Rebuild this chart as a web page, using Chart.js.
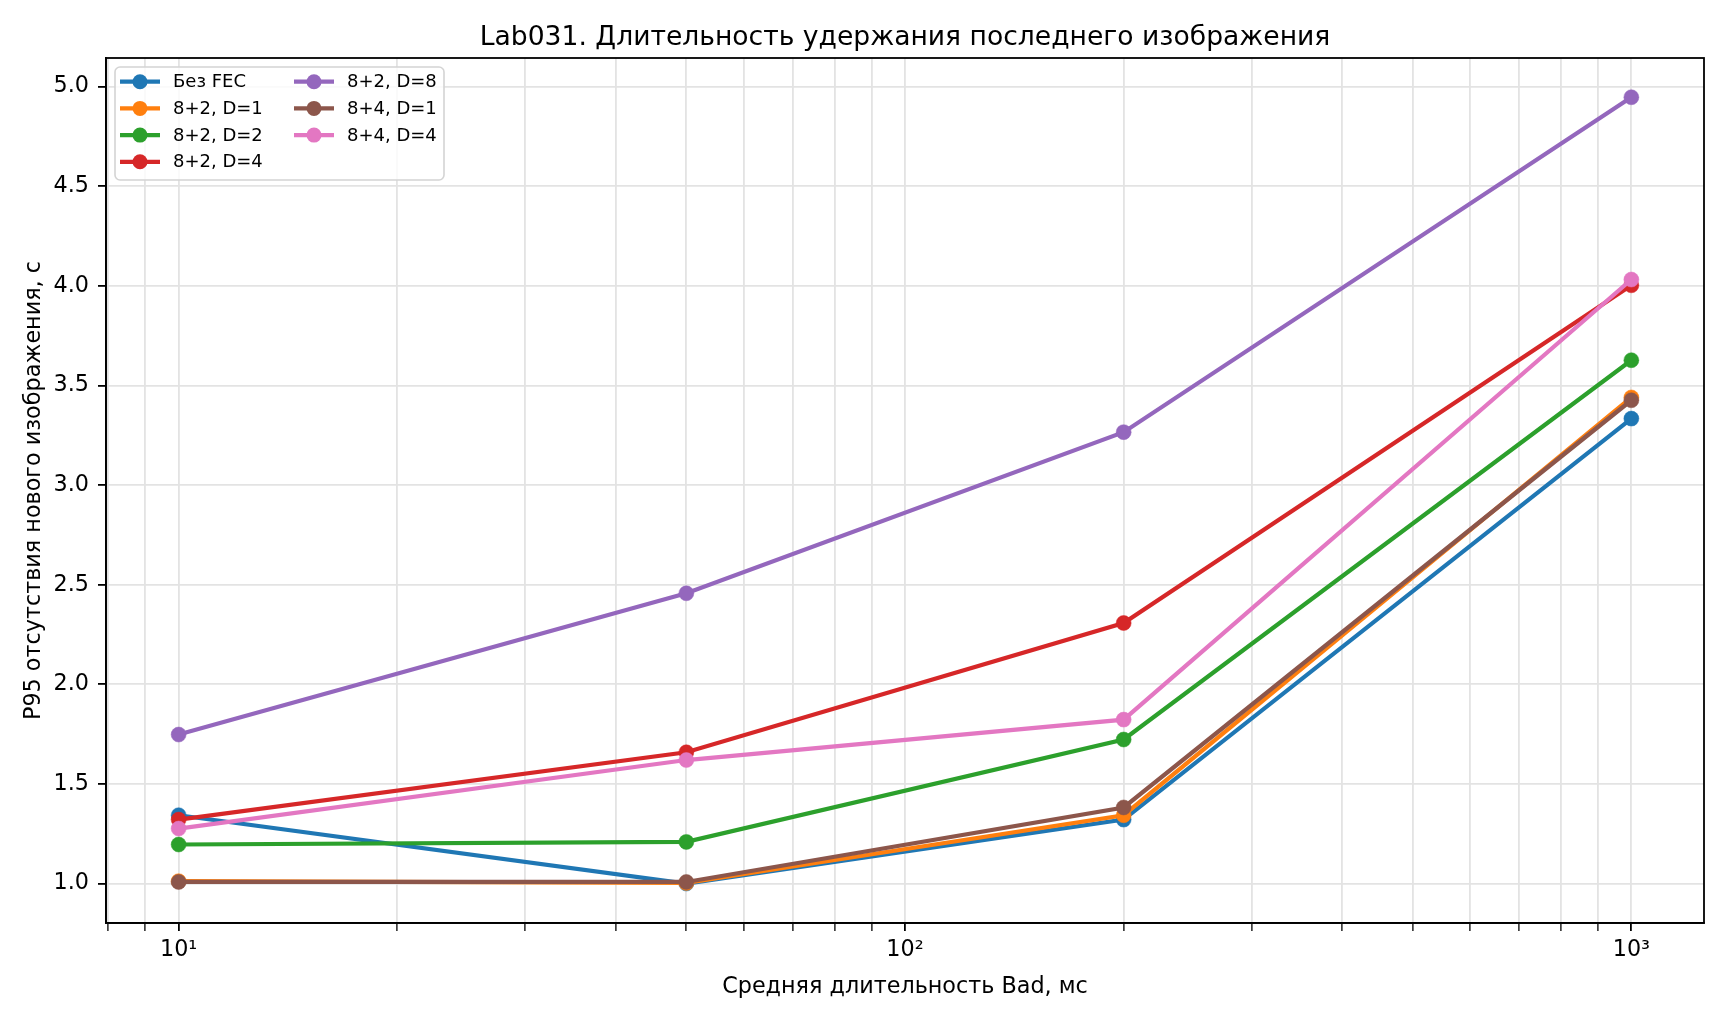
<!DOCTYPE html>
<html lang="ru">
<head>
  <meta charset="UTF-8">
  <title>Lab031</title>
  <script src="https://cdn.jsdelivr.net/npm/chart.js"></script>
  <style>
    html, body { margin: 0; padding: 0; background: #fff; }
    canvas { display: block; }
  </style>
</head>
<body>
  <canvas id="chart" width="1728" height="1024"></canvas>
  <script>
    // mean Bad duration, ms
    const badMs = [10, 50, 200, 1000];

    // P95 gap without a new picture, s
    const noFec  = [1.343, 1.000, 1.321, 3.334];
    const fec82d1 = [1.012, 1.003, 1.343, 3.440];
    const fec82d2 = [1.196, 1.209, 1.723, 3.627];
    const fec82d4 = [1.321, 1.659, 2.308, 4.003];
    const fec82d8 = [1.748, 2.457, 3.266, 4.947];
    const fec84d1 = [1.008, 1.008, 1.382, 3.426];
    const fec84d4 = [1.276, 1.620, 1.823, 4.032];

    const seriesNames = ['Без FEC', '8+2, D=1', '8+2, D=2', '8+2, D=4', '8+2, D=8', '8+4, D=1', '8+4, D=4'];
    const seriesColors = ['#1f77b4', '#ff7f0e', '#2ca02c', '#d62728', '#9467bd', '#8c564b', '#e377c2'];
    const seriesValues = [noFec, fec82d1, fec82d2, fec82d4, fec82d8, fec84d1, fec84d4];

    const yTicks = [1.0, 1.5, 2.0, 2.5, 3.0, 3.5, 4.0, 4.5, 5.0];
    const xTicks = [8, 9, 10, 20, 30, 40, 50, 60, 70, 80, 90, 100, 200, 300, 400, 500, 600, 700, 800, 900, 1000];

    const FONT = 'DejaVu Sans';
    const LABEL_SIZE = 22.3;
    const sup = { 1: '¹', 2: '²', 3: '³' };

    function isDecade(v) {
      const e = Math.log10(v);
      return Math.abs(e - Math.round(e)) < 1e-9;
    }

    const datasets = seriesNames.map((name, i) => ({
      label: name,
      data: badMs.map((x, j) => ({ x: x, y: seriesValues[i][j] })),
      borderColor: seriesColors[i],
      backgroundColor: seriesColors[i],
      borderWidth: 4.2,
      pointRadius: 7.5,
      pointBorderWidth: 0.5,
      pointHoverRadius: 7.5,
      tension: 0,
      order: seriesNames.length - i   // later series on top, like the original
    }));

    // title, frame and two-column legend
    const decor = {
      id: 'decor',
      afterDatasetsDraw(chart) {
        const ctx = chart.ctx;
        const a = chart.chartArea;
        ctx.save();
        // frame
        ctx.strokeStyle = '#000';
        ctx.lineWidth = 1.8;
        ctx.strokeRect(a.left, a.top, a.right - a.left, a.bottom - a.top);

        // legend box
        const bx = 115, by = 67, bw = 329, bh = 113, r = 5;
        ctx.beginPath();
        ctx.moveTo(bx + r, by);
        ctx.arcTo(bx + bw, by, bx + bw, by + bh, r);
        ctx.arcTo(bx + bw, by + bh, bx, by + bh, r);
        ctx.arcTo(bx, by + bh, bx, by, r);
        ctx.arcTo(bx, by, bx + bw, by, r);
        ctx.closePath();
        ctx.fillStyle = 'rgba(255,255,255,0.8)';
        ctx.fill();
        ctx.strokeStyle = '#d4d4d4';
        ctx.lineWidth = 1.6;
        ctx.stroke();

        ctx.font = '18px "' + FONT + '"';
        ctx.textBaseline = 'middle';
        ctx.textAlign = 'left';
        chart.data.datasets.forEach((ds, i) => {
          const col = i < 4 ? 0 : 1;
          const row = i < 4 ? i : i - 4;
          const x0 = col === 0 ? 120 : 294;
          const y0 = 81.7 + row * 26.7;
          ctx.strokeStyle = ds.borderColor;
          ctx.lineWidth = 4.2;
          ctx.beginPath();
          ctx.moveTo(x0, y0);
          ctx.lineTo(x0 + 40, y0);
          ctx.stroke();
          ctx.fillStyle = ds.borderColor;
          ctx.beginPath();
          ctx.arc(x0 + 20, y0, 7.5, 0, Math.PI * 2);
          ctx.fill();
          ctx.fillStyle = '#000';
          ctx.fillText(ds.label, x0 + 53, y0 + 1);
        });
        ctx.restore();
      },
      afterDraw(chart) {
        const ctx = chart.ctx;
        const a = chart.chartArea;
        ctx.save();
        ctx.font = '26.6px "' + FONT + '"';
        ctx.fillStyle = '#000';
        ctx.textAlign = 'center';
        ctx.textBaseline = 'alphabetic';
        ctx.fillText('Lab031. Длительность удержания последнего изображения', (a.left + a.right) / 2, 45);
        ctx.restore();
      }
    };

    new Chart(document.getElementById('chart'), {
      type: 'line',
      data: { datasets: datasets },
      options: {
        responsive: false,
        devicePixelRatio: 1,
        animation: false,
        layout: { padding: { top: 58, right: 24, left: 0, bottom: 0 } },
        plugins: {
          legend: { display: false },
          title: { display: false },
          tooltip: { enabled: false }
        },
        scales: {
          x: {
            type: 'logarithmic',
            min: Math.pow(10, 0.9),
            max: Math.pow(10, 3.1),
            afterBuildTicks(scale) {
              scale.ticks = xTicks.map(v => ({ value: v, major: isDecade(v) }));
            },
            afterFit(scale) { scale.height = 101; },
            ticks: {
              autoSkip: false,
              maxRotation: 0,
              padding: 6,
              color: '#000',
              font: { family: FONT, size: LABEL_SIZE },
              callback(value) {
                return isDecade(value) ? '10' + sup[Math.round(Math.log10(value))] : '';
              }
            },
            grid: {
              color: '#e3e3e3',
              lineWidth: 1.8,
              tickLength: 8,
              tickColor: '#000',
              tickWidth: ctx => (ctx.tick && ctx.tick.major ? 1.8 : 1.3)
            },
            border: { color: '#000', width: 1.8 },
            title: {
              display: true,
              text: 'Средняя длительность Bad, мс',
              color: '#000',
              font: { family: FONT, size: LABEL_SIZE },
              padding: { top: 23, bottom: 23 }
            }
          },
          y: {
            type: 'linear',
            min: 0.802,
            max: 5.144,
            afterBuildTicks(scale) {
              scale.ticks = yTicks.map(v => ({ value: v }));
            },
            afterFit(scale) { scale.width = 106; },
            ticks: {
              padding: 9,
              color: '#000',
              font: { family: FONT, size: LABEL_SIZE },
              callback: value => value.toFixed(1)
            },
            grid: {
              color: '#e3e3e3',
              lineWidth: 1.8,
              tickLength: 8,
              tickColor: '#000',
              tickWidth: 1.8
            },
            border: { color: '#000', width: 1.8 },
            title: {
              display: true,
              text: 'P95 отсутствия нового изображения, с',
              color: '#000',
              font: { family: FONT, size: LABEL_SIZE },
              padding: { top: 21, bottom: 21 }
            }
          }
        }
      },
      plugins: [decor]
    });
  </script>
</body>
</html>
